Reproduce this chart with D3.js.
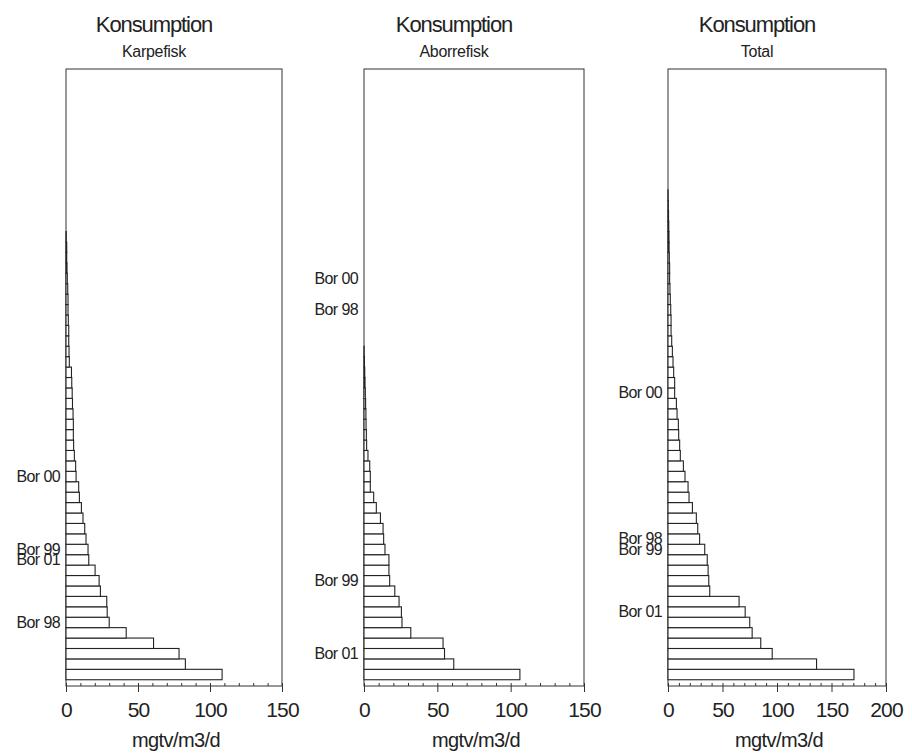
<!DOCTYPE html>
<html>
<head>
<meta charset="utf-8">
<script src="https://cdn.jsdelivr.net/npm/d3@7"></script>
<style>
  body { margin: 0; background: #fff; }
  text { font-family: "Liberation Sans", Arial, sans-serif; fill: #222; }
</style>
</head>
<body>
<div id="chart"></div>
<script>
// values are listed from the bottom bar of each panel upward (largest first)
let karpefisk = [108.4, 82.9, 78.5, 60.8, 41.8, 30, 28.6, 28.3, 23.9, 23,
  20.2, 15.8, 15.3, 13.9, 13, 11.8, 10.7, 9.3, 8.8, 7,
  6.7, 5.8, 5.3, 5.1, 5.1, 4.9, 4.5, 4.3, 4.0, 3.8,
  2.3, 2.1, 1.9, 1.9, 1.6, 1.4, 1.4, 1.2, 0.9, 0.7,
  0.5, 0.5, 0.2, 0, 0, 0, 0, 0, 0, 0,
  0, 0, 0, 0, 0, 0, 0, 0];
let aborrefisk = [106.3, 61.2, 54.9, 53.9, 31.9, 25.9, 25.5, 23.9, 21, 17.5,
  17, 17, 14.3, 13.4, 13, 11.2, 8.4, 6.6, 4.3, 4.3,
  3.9, 2.7, 1.8, 1.6, 1.4, 1.3, 1.1, 0.9, 0.7, 0.5,
  0.3, 0.1, 0, 0, 0, 0, 0, 0, 0, 0,
  0, 0, 0, 0, 0, 0, 0, 0, 0, 0,
  0, 0, 0, 0, 0, 0, 0, 0];
let total = [170.6, 136.3, 95.6, 85.1, 77.2, 75, 70.8, 65.2, 38.3, 37.4,
  36.8, 36, 33.7, 29, 27.3, 26, 22.4, 19.3, 18.4, 15.6,
  14.1, 11.3, 10.7, 9.8, 9.5, 8.3, 7.7, 6.1, 6.1, 5.2,
  4.6, 4, 3.4, 2.8, 2.8, 2.5, 2.1, 1.8, 1.5, 1.5,
  1.2, 1.0, 0.9, 0.7, 0.5, 0.3, 0.1, 0, 0, 0,
  0, 0, 0, 0, 0, 0, 0, 0];

// named lakes, keyed by their rank in each panel
let karpeLabels = {5: "Bor 98", 11: "Bor 01", 12: "Bor 99", 19: "Bor 00"};
let aborreLabels = {2: "Bor 01", 9: "Bor 99", 35: "Bor 98", 38: "Bor 00"};
let totalLabels = {6: "Bor 01", 12: "Bor 99", 13: "Bor 98", 27: "Bor 00"};

let titles = ["Konsumption", "Konsumption", "Konsumption"];
let subtitles = ["Karpefisk", "Aborrefisk", "Total"];
let xMax = [150, 150, 200];
let xTicks = [[0, 50, 100, 150], [0, 50, 100, 150], [0, 50, 100, 150, 200]];
let xTitle = "mgtv/m3/d";

let series = [karpefisk, aborrefisk, total];
let labels = [karpeLabels, aborreLabels, totalLabels];

// layout
let width = 912, height = 755;
let plotTop = 69, plotBottom = 686;
let lefts = [66, 364, 668], widths = [216, 220, 218];

let svg = d3.select('#chart')
  .append('svg')
  .attr('width', width)
  .attr('height', height);

series.forEach(function(values, p) {
  let left = lefts[p], w = widths[p];
  let g = svg.append('g');

  let x = d3.scaleLinear().domain([0, xMax[p]]).range([left, left + w]);
  let y = d3.scaleBand()
    .domain(d3.range(values.length))
    .range([plotBottom, plotTop])
    .paddingInner(0)
    .paddingOuter(0.6);

  // frame
  g.append('rect')
    .attr('x', left).attr('y', plotTop)
    .attr('width', w).attr('height', plotBottom - plotTop)
    .attr('fill', 'none')
    .attr('stroke', '#333')
    .attr('stroke-width', 1);

  // bars
  g.selectAll('.bar')
    .data(values.map(function(v, i) { return {i: i, v: v}; }).filter(function(d) { return d.v > 0; }))
    .enter().append('rect')
    .attr('class', 'bar')
    .attr('x', x(0))
    .attr('y', function(d) { return y(d.i); })
    .attr('width', function(d) { return x(d.v) - x(0); })
    .attr('height', y.bandwidth())
    .attr('fill', '#fff')
    .attr('stroke', '#222')
    .attr('stroke-width', 1.1);

  // minor ticks, pointing inward
  g.append('g')
    .attr('transform', 'translate(0,' + plotBottom + ')')
    .call(d3.axisBottom(x).tickValues(d3.range(0, xMax[p] + 1, 10)).tickSize(-3).tickFormat(''))
    .call(function(a) { a.select('.domain').remove(); })
    .selectAll('line').attr('stroke', '#333');

  // major ticks + labels
  let xa = g.append('g')
    .attr('transform', 'translate(0,' + plotBottom + ')')
    .call(d3.axisBottom(x).tickValues(xTicks[p]).tickSize(6).tickPadding(10));
  xa.select('.domain').remove();
  xa.selectAll('line').attr('stroke', '#333');
  xa.selectAll('text')
    .style('font-size', '21px')
    .style('letter-spacing', '-0.8px')
    .style('font-family', '"Liberation Sans", Arial, sans-serif')
    .attr('fill', '#222');

  // lake labels on the left
  let ya = g.append('g')
    .attr('transform', 'translate(' + left + ',0)')
    .call(d3.axisLeft(y)
      .tickValues(Object.keys(labels[p]).map(Number))
      .tickFormat(function(i) { return labels[p][i]; })
      .tickSize(0).tickPadding(6));
  ya.select('.domain').remove();
  ya.selectAll('text')
    .style('font-size', '16px')
    .style('letter-spacing', '-0.6px')
    .style('font-family', '"Liberation Sans", Arial, sans-serif')
    .attr('fill', '#222');

  // titles
  g.append('text')
    .attr('x', left + w / 2 - 20).attr('y', 32)
    .attr('text-anchor', 'middle')
    .style('font-size', '22px')
    .style('letter-spacing', '-1.1px')
    .text(titles[p]);
  g.append('text')
    .attr('x', left + w / 2 - 20).attr('y', 57)
    .attr('text-anchor', 'middle')
    .style('font-size', '16px')
    .style('letter-spacing', '-0.3px')
    .text(subtitles[p]);

  // x axis title
  g.append('text')
    .attr('x', left + w / 2 + 2).attr('y', 747)
    .attr('text-anchor', 'middle')
    .style('font-size', '20px')
    .style('letter-spacing', '-0.6px')
    .text(xTitle);
});
</script>
</body>
</html>
